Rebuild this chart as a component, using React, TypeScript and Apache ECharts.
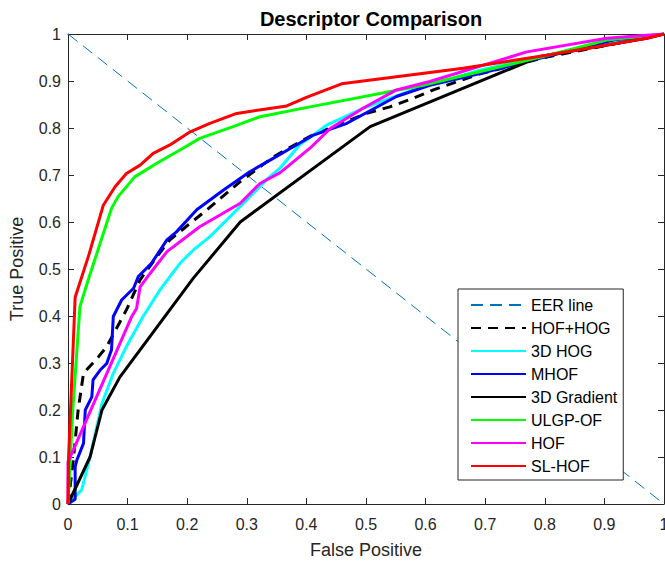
import React, { useEffect, useRef } from "react";
import * as echarts from "echarts";

// ROC curves: [false positive rate, true positive rate]
const eerLine: number[][] = [[0, 1], [1, 0]];

const hofHog: number[][] = [
  [0, 0], [0.009, 0.094], [0.017, 0.2], [0.026, 0.278], [0.051, 0.313], [0.065, 0.335],
  [0.098, 0.413], [0.121, 0.477], [0.149, 0.526], [0.171, 0.562], [0.233, 0.626],
  [0.289, 0.686], [0.345, 0.739], [0.41, 0.785], [0.46, 0.81], [0.501, 0.831],
  [0.54, 0.845], [0.579, 0.863], [0.613, 0.881], [0.69, 0.915], [0.8, 0.95], [1, 1],
];

const hog3d: number[][] = [
  [0, 0], [0.023, 0.03], [0.037, 0.1], [0.057, 0.214], [0.076, 0.278], [0.098, 0.335],
  [0.126, 0.399], [0.154, 0.455], [0.171, 0.484], [0.19, 0.515], [0.21, 0.54],
  [0.238, 0.569], [0.266, 0.604], [0.3, 0.647], [0.333, 0.69], [0.356, 0.715],
  [0.389, 0.765], [0.406, 0.78], [0.434, 0.806], [0.495, 0.842], [0.579, 0.881],
  [0.691, 0.923], [0.803, 0.955], [1, 1],
];

const mhof: number[][] = [
  [0, 0], [0.012, 0.01], [0.012, 0.079], [0.015, 0.094], [0.026, 0.129], [0.029, 0.2],
  [0.04, 0.228], [0.042, 0.264], [0.054, 0.285], [0.065, 0.299], [0.073, 0.328],
  [0.076, 0.399], [0.09, 0.434], [0.11, 0.459], [0.118, 0.484], [0.14, 0.512],
  [0.166, 0.562], [0.182, 0.579], [0.216, 0.626], [0.261, 0.668], [0.305, 0.707],
  [0.345, 0.736], [0.378, 0.76], [0.412, 0.785], [0.468, 0.81], [0.551, 0.867],
  [0.607, 0.891], [0.691, 0.916], [0.803, 0.952], [0.915, 0.987], [1, 1],
];

const gradient3d: number[][] = [
  [0, 0], [0.037, 0.1], [0.057, 0.2], [0.087, 0.27], [0.21, 0.48], [0.289, 0.6],
  [0.507, 0.803], [0.792, 0.952], [0.971, 0.991], [1, 1],
];

const ulgpOf: number[][] = [
  [0, 0], [0.008, 0.2], [0.02, 0.42], [0.034, 0.477], [0.073, 0.629], [0.084, 0.654],
  [0.112, 0.696], [0.149, 0.725], [0.193, 0.757], [0.221, 0.778], [0.277, 0.803],
  [0.322, 0.824], [0.406, 0.845], [0.596, 0.891], [0.797, 0.952], [0.904, 0.987], [1, 1],
];

const hof: number[][] = [
  [0, 0], [0, 0.09], [0.009, 0.115], [0.107, 0.399], [0.115, 0.416], [0.121, 0.462],
  [0.138, 0.491], [0.166, 0.537], [0.221, 0.59], [0.289, 0.64], [0.322, 0.682],
  [0.356, 0.705], [0.406, 0.757], [0.44, 0.799], [0.495, 0.842], [0.551, 0.881],
  [0.607, 0.899], [0.77, 0.962], [0.904, 0.991], [1, 1],
];

const slHof: number[][] = [
  [0, 0], [0.001, 0.1], [0.012, 0.44], [0.035, 0.53], [0.059, 0.635], [0.079, 0.675],
  [0.098, 0.703], [0.121, 0.721], [0.143, 0.746], [0.171, 0.764], [0.205, 0.792],
  [0.238, 0.81], [0.283, 0.831], [0.367, 0.847], [0.4, 0.865], [0.459, 0.894],
  [0.663, 0.927], [0.803, 0.955], [0.971, 0.991], [1, 1],
];

const tickValues: number[] = [0, 0.1, 0.2, 0.3, 0.4, 0.5, 0.6, 0.7, 0.8, 0.9, 1];

const FONT = "'Liberation Sans', Arial, Helvetica, sans-serif";
const AXIS_COLOR = "#262626";

function fmtTick(v: number): string {
  const r = Math.round(v * 10) / 10;
  if (r === 0) return "0";
  if (r === 1) return "1";
  return r.toFixed(1);
}

function makeAxis(kind: "x" | "y", secondary: boolean): any {
  const base: any = {
    type: "value",
    min: tickValues[0],
    max: tickValues[tickValues.length - 1],
    interval: 0.1,
    splitLine: { show: false },
    axisLine: { show: true, onZero: false, lineStyle: { color: AXIS_COLOR, width: 1 } },
    axisTick: { show: true, inside: true, length: 6, lineStyle: { color: AXIS_COLOR, width: 1 } },
    axisLabel: {
      show: !secondary,
      formatter: fmtTick,
      color: AXIS_COLOR,
      fontSize: 16,
      fontFamily: FONT,
      margin: kind === "x" ? 12 : 7,
    },
  };
  if (kind === "x") {
    base.position = secondary ? "top" : "bottom";
    if (!secondary) {
      base.name = "False Positive";
      base.nameLocation = "middle";
      base.nameGap = 37;
      base.nameTextStyle = { color: AXIS_COLOR, fontSize: 18, fontFamily: FONT };
    }
  } else {
    base.position = secondary ? "right" : "left";
    if (!secondary) {
      base.name = "True Positive";
      base.nameLocation = "middle";
      base.nameGap = 42;
      base.nameTextStyle = { color: AXIS_COLOR, fontSize: 18, fontFamily: FONT };
    }
  }
  return base;
}

function curve(name: string, data: number[][], color: string, width: number, type: any): any {
  return {
    name,
    type: "line",
    data,
    xAxisIndex: 0,
    yAxisIndex: 0,
    symbol: "none",
    showSymbol: false,
    smooth: false,
    lineStyle: { color, width, type },
    itemStyle: { color },
    emphasis: { disabled: true },
  };
}

export default function App() {
  const ref = useRef<HTMLDivElement | null>(null);

  useEffect(() => {
    if (!ref.current) return;
    const chart = echarts.init(ref.current, undefined, { renderer: "svg" });
    chart.setOption({
      animation: false,
      backgroundColor: "#ffffff",
      title: {
        text: "Descriptor Comparison",
        left: 366,
        textAlign: "center",
        top: 4,
        textStyle: { color: "#000", fontSize: 20, fontWeight: "bold", fontFamily: FONT },
      },
      grid: {
        left: 68,
        right: 1,
        top: 34,
        bottom: 60,
        containLabel: false,
        outerBoundsMode: "none",
      },
      xAxis: [makeAxis("x", false), makeAxis("x", true)],
      yAxis: [makeAxis("y", false), makeAxis("y", true)],
      legend: {
        orient: "vertical",
        left: 458,
        top: 289,
        backgroundColor: "#ffffff",
        borderColor: AXIS_COLOR,
        borderWidth: 1,
        borderRadius: 0,
        padding: [8, 6, 6, 12],
        itemWidth: 55,
        itemHeight: 14,
        itemGap: 7,
        selectedMode: false,
        itemStyle: { opacity: 0 },
        textStyle: { color: "#000", fontSize: 16, fontFamily: FONT },
        data: ["EER line", "HOF+HOG", "3D HOG", "MHOF", "3D Gradient", "ULGP-OF", "HOF", "SL-HOF"],
      },
      series: [
        curve("EER line", eerLine, "#0072BD", 1, [12, 7]),
        curve("HOF+HOG", hofHog, "#000000", 3, [10, 7]),
        curve("3D HOG", hog3d, "#00FFFF", 3, "solid"),
        curve("MHOF", mhof, "#0000FF", 3, "solid"),
        curve("3D Gradient", gradient3d, "#000000", 3, "solid"),
        curve("ULGP-OF", ulgpOf, "#00FF00", 3, "solid"),
        curve("HOF", hof, "#FF00FF", 3, "solid"),
        curve("SL-HOF", slHof, "#FF0000", 3, "solid"),
      ],
    });
    return () => chart.dispose();
  }, []);

  return (
    <div
      ref={ref}
      style={{ position: "fixed", left: 0, top: 0, width: 665, height: 564, background: "#fff" }}
    />
  );
}
